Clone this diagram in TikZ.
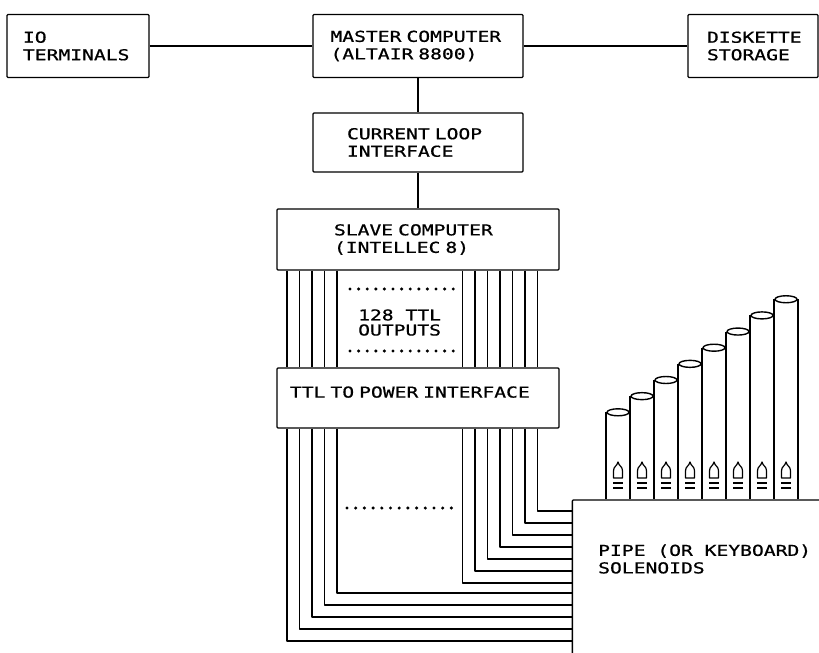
\documentclass[tikz,border=0pt]{standalone}
\usepackage{fontspec}
\setmainfont{DejaVu Sans Mono}[FakeStretch=1.31,FakeBold=0.8]
\usepackage{tikz}
\usetikzlibrary{positioning}

\tikzset{
	blk/.style={draw,line width=1.3pt,rounded corners=1pt,align=left,inner ysep=0pt},
	wire/.style={line width=1.25pt},
	pipe/.style={line width=1.4pt},
	lbl/.style={align=left,inner sep=0pt}
}

\begin{document}
\begin{tikzpicture}[x=1pt,y=-1pt,font=\fontsize{15}{17.5}\selectfont,line join=round]
	\path[use as bounding box,clip] (0,0) rectangle (819,653);

	\node (io) [blk,minimum width=142pt,minimum height=63pt,text width=110pt,inner xsep=16pt] at (78,46) {IO\\TERMINALS};
	\node (master) [blk,minimum width=210pt,minimum height=63pt,text width=175pt,inner xsep=17.5pt] at (418,46) {MASTER COMPUTER\\(ALTAIR 8800)};
	\node (disk) [blk,minimum width=130pt,minimum height=63pt,text width=92pt,inner xsep=19pt] at (753,46) {DISKETTE\\STORAGE};
	\node (loop) [blk,minimum width=210pt,minimum height=59pt,text width=142pt,inner xsep=34pt] at (418,142.5) {CURRENT LOOP\\INTERFACE};
	\node (slave) [blk,minimum width=282pt,minimum height=61pt,text width=168pt,inner xsep=57pt] at (418,239.5) {SLAVE COMPUTER\\(INTELLEC 8)};
	\node (ttl) [blk,minimum width=282pt,minimum height=60pt,text width=256pt,inner xsep=13pt,text depth=12pt] at (418,398) {TTL TO POWER INTERFACE};
	\node (sol) [blk,anchor=north west,minimum width=270pt,minimum height=170pt] at (571.7,499.3) {};
	\node (outs) [lbl,anchor=west] at (358,322.5) {128 TTL\\[-2.5pt]OUTPUTS};
	\node (soltxt) [lbl,anchor=west] at (598,559) {PIPE (OR KEYBOARD)\\SOLENOIDS};

	\path[line width=1.3pt]
	(io) edge (master)
	(master) edge (disk)
		edge (loop)
	(loop) edge (slave);

	\foreach \x in {287,299.5,312,324.5,337,462.5,475,487.5,500,512.5,525,537.5}
		\draw[wire] (slave.south -| \x,0) -- (ttl.north -| \x,0);
	\foreach \x/\y in {287/641,299.5/629,312/617,324.5/605,337/593,462.5/583,475/571,487.5/559,500/547,512.5/535,525/523,537.5/511}
		\draw[wire] (ttl.south -| \x,0) |- (sol.west |- 0,\y);

	\foreach \i in {0,...,12} {
		\fill (350+8.6*\i,289) circle [radius=1.7pt];
		\fill (350+8.6*\i,351) circle [radius=1.7pt];
		\fill (347+8.7*\i,508) circle [radius=1.7pt];
	}

	\foreach \i in {0,...,7} {
		\pgfmathsetmacro\px{606+24*\i}
		\pgfmathsetmacro\pt{412.3-16.15*\i}
		\draw[pipe] (\px,499) -- (\px,\pt) (\px+24,\pt) -- (\px+24,499);
		\draw[pipe] (\px+12,\pt) ellipse [x radius=11pt,y radius=3.5pt];
		\draw[line width=1.2pt] (\px+7.5,478) -- (\px+7.5,471) .. controls (\px+7.5,466) and (\px+11,466.5) .. (\px+12,462)
			.. controls (\px+13,466.5) and (\px+16.5,466) .. (\px+16.5,471) -- (\px+16.5,478) -- cycle;
		\draw[line width=1.2pt] (\px+7,483) -- (\px+17,483) (\px+7,488) -- (\px+17,488);
	}
\end{tikzpicture}
\end{document}
